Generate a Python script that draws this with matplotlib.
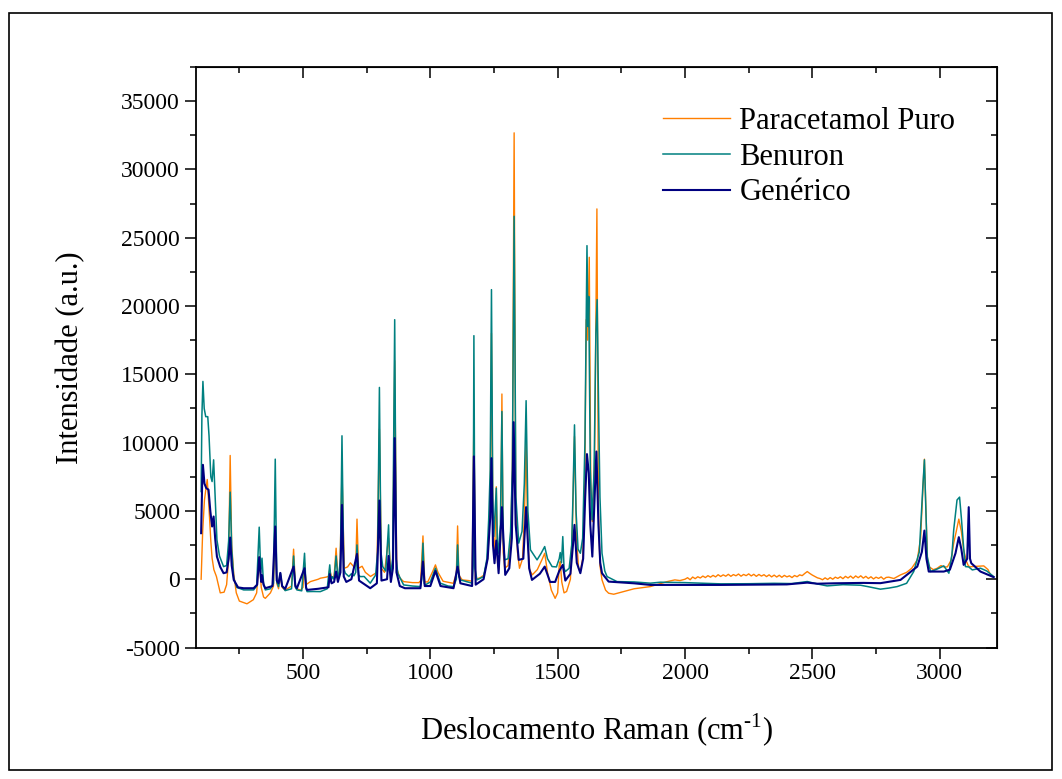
import matplotlib
matplotlib.use('Agg')
import matplotlib.pyplot as plt
from matplotlib.ticker import MultipleLocator
from matplotlib.patches import Rectangle

# espectros Raman (deslocamento em cm-1, intensidade em u.a.)
puro_x = [100, 106, 113, 120, 124, 130, 138, 143, 150, 160, 175, 190, 200, 208, 214, 220, 228, 238, 250, 280,
          305, 318, 328, 336, 345, 352, 372, 384, 391, 397, 404, 411, 418, 430, 455, 463, 470, 476, 490, 500,
          506, 512, 529, 560, 568, 590, 600, 605, 612, 622, 630, 637, 645, 653, 662, 675, 686, 700, 707, 712,
          718, 732, 745, 765, 790, 800, 808, 820, 836, 845, 852, 860, 868, 880, 895, 930, 955, 962, 971, 978,
          990, 1010, 1020, 1030, 1050, 1090, 1102, 1107, 1112, 1125, 1150, 1164, 1171, 1177, 1195, 1210, 1225, 1235, 1240, 1246,
          1252, 1259, 1264, 1269, 1276, 1281, 1286, 1292, 1305, 1315, 1322, 1329, 1335, 1342, 1350, 1362, 1370, 1376, 1382, 1390,
          1400, 1420, 1440, 1449, 1460, 1475, 1490, 1500, 1506, 1510, 1516, 1525, 1535, 1550, 1558, 1566, 1574, 1582, 1589, 1598,
          1606, 1612, 1618, 1624, 1630, 1636, 1645, 1654, 1660, 1666, 1674, 1688, 1700, 1720, 1760, 1800, 1864, 1930, 1960, 1980,
          2000, 2010, 2020, 2030, 2040, 2050, 2060, 2070, 2080, 2090, 2100, 2110, 2120, 2130, 2140, 2150, 2160, 2170, 2180, 2190,
          2200, 2210, 2220, 2230, 2240, 2250, 2260, 2270, 2280, 2290, 2300, 2310, 2320, 2330, 2340, 2350, 2360, 2370, 2380, 2390,
          2400, 2410, 2420, 2430, 2440, 2450, 2460, 2470, 2480, 2490, 2500, 2510, 2520, 2530, 2540, 2550, 2560, 2570, 2580, 2590,
          2600, 2610, 2620, 2630, 2640, 2650, 2660, 2670, 2680, 2690, 2700, 2710, 2720, 2730, 2740, 2750, 2760, 2770, 2780, 2790,
          2800, 2820, 2846, 2870, 2890, 2912, 2925, 2935, 2940, 2946, 2952, 2957, 2975, 2990, 3005, 3016, 3030, 3045, 3055, 3065,
          3075, 3085, 3094, 3105, 3112, 3118, 3128, 3150, 3173, 3190, 3200, 3210]
puro_y = [0, 3500, 5800, 6800, 7300, 5500, 2800, 1540, 700, 200, -1000, -950, -400, 1500, 9060, 2500, 400, -1000, -1600, -1800,
          -1500, -1000, 1650, -600, -1300, -1400, -1000, -500, 3500, -300, -700, 300, -600, -800, -500, 2200, -400, -700, -800, -600,
          1200, -400, -175, 0, 73, 150, 200, 700, 150, 200, 2270, 200, 600, 8000, 800, 900, 1200, 900, 1000, 4400,
          800, 950, 500, 200, 500, 11000, 800, 500, 3000, 400, 900, 16000, 800, 100, -175, -250, -250, -100, 3170, -200,
          -200, 600, 1050, 500, -150, -300, 400, 3900, 300, -50, -100, -150, 12000, 0, 100, 300, 1500, 5000, 18000, 3500,
          1500, 6770, 1200, 700, 3000, 13560, 2000, 800, 1000, 3000, 8000, 32680, 6000, 2000, 800, 1500, 5000, 10330, 3000, 700,
          315, 700, 1500, 1900, 500, -800, -1400, -1000, 1000, 1290, -200, -1000, -900, 0, 4000, 10450, 3000, 800, 560, 1500,
          6000, 19000, 17500, 23570, 7000, 4220, 9000, 27110, 5000, 1000, -51, -800, -1026, -1100, -900, -700, -540, -175, -50, -100,
          0, 110, -40, 160, 40, 180, 90, 230, 120, 260, 150, 280, 170, 330, 200, 320, 220, 360, 210, 340,
          250, 380, 220, 350, 260, 390, 240, 360, 210, 350, 230, 330, 190, 320, 170, 300, 160, 290, 140, 280,
          170, 250, 120, 270, 180, 320, 260, 420, 560, 420, 300, 200, 100, 50, -40, 100, -20, 120, 0, 150,
          60, 180, 40, 210, 90, 230, 70, 240, 110, 250, 80, 210, 50, 180, 20, 150, 60, 170, 0, 130,
          150, 50, 315, 500, 800, 1415, 3000, 7000, 8790, 5000, 1500, 925, 700, 800, 1000, 900, 900, 1400, 2640, 3500,
          4400, 3500, 2150, 1300, 1000, 900, 925, 950, 975, 700, 300, 190]

benuron_x = [100, 103, 107, 112, 118, 126, 131, 138, 143, 149, 154, 162, 172, 188, 200, 208, 214, 220, 228, 240,
             267, 306, 318, 328, 334, 339, 345, 352, 372, 384, 391, 397, 404, 411, 418, 430, 455, 463, 470, 476,
             495, 506, 512, 516, 540, 568, 595, 605, 610, 614, 622, 630, 637, 640, 647, 653, 660, 666, 680, 690,
             700, 707, 712, 718, 725, 740, 764, 785, 793, 800, 806, 813, 825, 836, 841, 845, 852, 860, 866, 872,
             895, 930, 961, 966, 971, 976, 980, 1000, 1020, 1039, 1070, 1091, 1102, 1107, 1112, 1118, 1164, 1168, 1171, 1175,
             1183, 1209, 1222, 1229, 1235, 1240, 1245, 1249, 1259, 1263, 1266, 1275, 1281, 1286, 1292, 1305, 1315, 1322, 1329, 1336,
             1347, 1360, 1369, 1376, 1383, 1393, 1419, 1435, 1449, 1460, 1478, 1495, 1506, 1510, 1515, 1520, 1525, 1530, 1545, 1555,
             1560, 1566, 1572, 1580, 1589, 1598, 1607, 1615, 1619, 1622, 1628, 1635, 1643, 1650, 1655, 1661, 1666, 1674, 1685, 1694,
             1733, 1800, 1864, 1903, 2000, 2140, 2250, 2350, 2420, 2480, 2520, 2558, 2620, 2689, 2720, 2767, 2800, 2833, 2870, 2898,
             2920, 2933, 2940, 2946, 2951, 2964, 2985, 2997, 3016, 3036, 3048, 3055, 3068, 3078, 3085, 3094, 3101, 3114, 3128, 3160,
             3185, 3212]
benuron_y = [6420, 12000, 14480, 12500, 11900, 11900, 10500, 7500, 7150, 8740, 6500, 2880, 1700, 923, 1000, 2800, 6375, 2200, 73, -600,
             -784, -784, -500, 3810, 500, 1540, -300, -784, -700, -300, 8790, -200, -540, 460, -500, -835, -700, 1700, -600, -784,
             -850, 1900, -700, -908, -900, -908, -700, 1050, -200, 190, 0, 1700, 0, 190, 1500, 10500, 800, 440, 200, 400,
             250, 500, 2510, 300, 190, 200, -290, 300, 2000, 14040, 2000, 925, 600, 3980, 800, 440, 1500, 19000, 1500, 440,
             -418, -500, -540, 0, 2640, -300, -418, -200, 806, -290, -500, -540, 0, 2510, 200, -51, -290, 1000, 17830, 800,
             -51, 190, 1500, 4350, 8000, 21200, 6000, 3120, 6670, 2500, 1900, 4000, 12280, 3000, 1415, 1500, 3500, 8000, 26570, 6000,
             2640, 3500, 7000, 13070, 5000, 2150, 1415, 1900, 2390, 1500, 925, 900, 1500, 1950, 1200, 3120, 800, 560, 800, 2500,
             6000, 11300, 5000, 2200, 1900, 3000, 10000, 24420, 18500, 20700, 8000, 4350, 8000, 18000, 20470, 12000, 6000, 1900, 600, 190,
             -175, -200, -290, -220, -250, -340, -330, -300, -320, -170, -350, -490, -400, -440, -550, -730, -650, -540, -300, 560,
             2000, 6500, 8740, 5000, 1656, 560, 700, 806, 975, 440, 1800, 3610, 5800, 6010, 4500, 2300, 925, 900, 680, 806,
             600, 190]

generico_x = [100, 104, 107, 113, 120, 129, 136, 143, 149, 155, 162, 175, 188, 200, 208, 214, 220, 228, 245, 267,
              306, 320, 328, 336, 339, 345, 352, 380, 391, 397, 404, 411, 418, 430, 463, 470, 476, 506, 512, 516,
              560, 600, 605, 612, 622, 630, 637, 647, 653, 660, 670, 690, 712, 720, 764, 790, 800, 808, 830, 836,
              845, 853, 860, 867, 880, 900, 961, 971, 978, 1000, 1020, 1040, 1091, 1107, 1118, 1164, 1171, 1178, 1209, 1225,
              1235, 1240, 1246, 1252, 1259, 1268, 1281, 1294, 1310, 1320, 1327, 1335, 1347, 1365, 1376, 1388, 1399, 1430, 1449, 1470,
              1490, 1506, 1520, 1530, 1550, 1560, 1566, 1575, 1589, 1600, 1608, 1615, 1622, 1628, 1636, 1645, 1652, 1660, 1667, 1674,
              1700, 1800, 1864, 1903, 2140, 2400, 2460, 2480, 2520, 2585, 2700, 2767, 2846, 2912, 2930, 2940, 2948, 2957, 3016, 3040,
              3062, 3075, 3085, 3094, 3108, 3114, 3119, 3124, 3160, 3212]
generico_y = [3370, 7000, 8375, 7000, 6670, 6550, 5000, 3860, 4590, 3000, 1656, 900, 440, 500, 1500, 3050, 1000, -51, -600, -660,
              -660, -400, 1610, -200, 300, -400, -660, -500, 3860, -100, -295, 460, -500, -710, 925, -500, -660, 806, -600, -784,
              -700, -590, 370, -300, -200, 560, -200, 500, 5440, 200, -200, 0, 1850, -100, -660, -300, 5760, -100, 0, 1700,
              -200, 800, 10330, 500, -500, -660, -660, 1290, -500, -500, 600, -500, -660, 925, -300, -500, 8990, -400, 0, 1500,
              4500, 8860, 2500, 1170, 2830, 440, 5275, 315, 800, 3000, 11500, 4000, 1415, 1500, 5275, 800, -51, 400, 925, -200,
              -200, 600, 1050, -100, 400, 2500, 3980, 1200, 440, 1500, 6000, 9160, 7770, 4000, 1656, 6000, 9350, 4000, 1200, 440,
              -175, -300, -418, -418, -418, -380, -280, -250, -330, -300, -270, -290, -51, 925, 2000, 3560, 1500, 560, 560, 700,
              1900, 3080, 2200, 1050, 1500, 5275, 1500, 1170, 560, 150]

plt.rcParams['font.family'] = ['Liberation Serif', 'DejaVu Serif']
plt.rcParams['mathtext.fontset'] = 'custom'
plt.rcParams['mathtext.rm'] = 'Liberation Serif'
plt.rcParams['axes.unicode_minus'] = False

fig = plt.figure(figsize=(10.62, 7.79), dpi=100)
ax = fig.add_axes([0.1846, 0.1688, 0.7542, 0.7452])

ax.plot(puro_x, puro_y, color='#FF7F00', lw=1.0, label='Paracetamol Puro')
ax.plot(benuron_x, benuron_y, color='#008080', lw=1.1, label='Benuron')
ax.plot(generico_x, generico_y, color='#000080', lw=1.5, label='Genérico')

ax.set_xlim(80, 3225)
ax.set_ylim(-5000, 37500)
ax.set_xticks([500, 1000, 1500, 2000, 2500, 3000])
ax.xaxis.set_minor_locator(MultipleLocator(250))
ax.yaxis.set_major_locator(MultipleLocator(5000))
ax.yaxis.set_minor_locator(MultipleLocator(2500))
ax.tick_params(which='major', direction='out', length=8, width=1.1, labelsize=17)
ax.tick_params(which='minor', direction='out', length=4.3, width=1.1)
for s in ax.spines.values():
    s.set_linewidth(1.3)

# marcas internas no topo e à direita
top = ax.secondary_xaxis('top')
top.set_xticks([500, 1000, 1500, 2000, 2500, 3000])
top.xaxis.set_minor_locator(MultipleLocator(250))
top.tick_params(which='major', direction='in', length=8, width=1.1, labeltop=False)
top.tick_params(which='minor', direction='in', length=4.3, width=1.1)
right = ax.secondary_yaxis('right')
right.yaxis.set_major_locator(MultipleLocator(5000))
right.yaxis.set_minor_locator(MultipleLocator(2500))
right.tick_params(which='major', direction='in', length=8, width=1.1, labelright=False)
right.tick_params(which='minor', direction='in', length=4.3, width=1.1)

ax.set_xlabel(r'Deslocamento Raman (cm$^{\text{-1}}$)', fontsize=22, labelpad=20)
ax.set_ylabel('Intensidade (a.u.)', fontsize=22, labelpad=26)

ax.legend(loc='upper left', bbox_to_anchor=(0.583, 0.931), frameon=False, fontsize=22,
          handlelength=2.2, handletextpad=0.3, labelspacing=0.22, borderpad=0, borderaxespad=0)

fig.patches.append(Rectangle((0.0089, 0.0116), 0.9817, 0.9711, transform=fig.transFigure,
                             fill=False, edgecolor='black', lw=1.2))

plt.savefig('out.png', dpi=100)
